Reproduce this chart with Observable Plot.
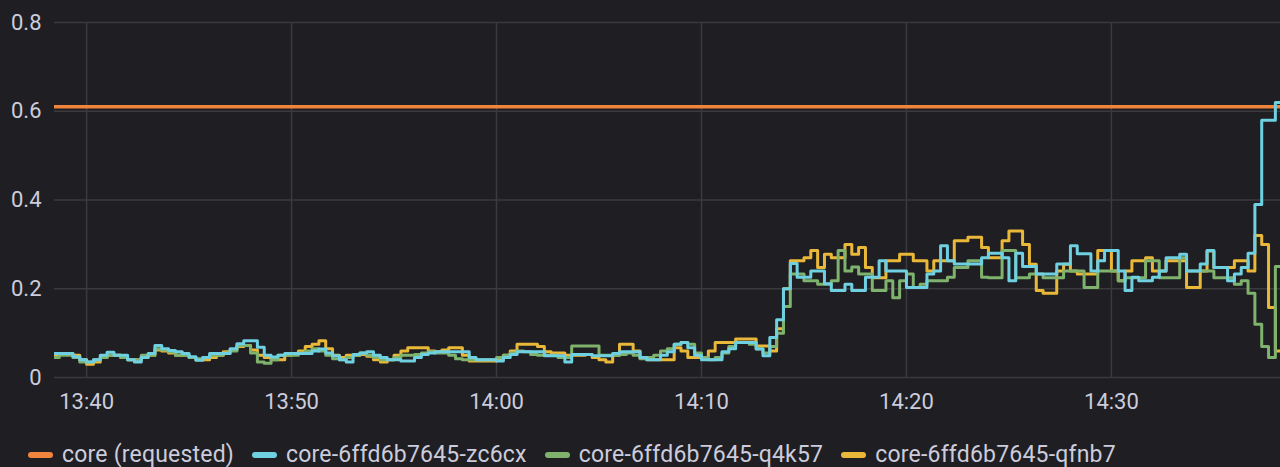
<!DOCTYPE html>
<html>
<head>
<meta charset="utf-8">
<script src="https://cdn.jsdelivr.net/npm/d3@7"></script>
<script src="https://cdn.jsdelivr.net/npm/@observablehq/plot@0.6"></script>
<style>
  html, body { margin: 0; padding: 0; background: #1f1f23; overflow: hidden; }
  #wrap { position: relative; width: 1280px; height: 467px; background: #1f1f23; font-family: Roboto, "Noto Sans", sans-serif; }
  #legend { position: absolute; left: 28px; top: 443px; height: 24px; display: flex; align-items: center; color: #ccccdc; font-size: 23px; line-height: 24px; white-space: nowrap; letter-spacing: 0.2px; }
  .item { display: flex; align-items: center; margin-right: 18px; }
  .sw { width: 25px; height: 6px; border-radius: 3px; margin-right: 9px; }
</style>
</head>
<body>
<div id="wrap"><div id="chart"></div><div id="legend"></div></div>
<script>
// ---- data (20-second samples starting 13:38:20) ----
const startTime = "13:38:20";
const stepSeconds = 20;
const seriesNames = ["core-6ffd6b7645-zc6cx", "core-6ffd6b7645-q4k57", "core-6ffd6b7645-qfnb7"];
const seriesColors = ["#6ED0E0", "#7EB26D", "#EAB839"];
const requestedName = "core (requested)";
const requestedColor = "#EF843C";
const requestedTimes = ["13:38:20", "14:38:20"];
const requestedValues = [0.61, 0.61];
const xTickLabels = ["13:40", "13:50", "14:00", "14:10", "14:20", "14:30"];
const yTickValues = [0, 0.2, 0.4, 0.6, 0.8];

const zc6cx = [
  0.054,0.054,0.054,0.047,0.04,0.035,0.04,0.05,0.057,
  0.05,0.05,0.04,0.035,0.045,0.054,0.072,0.065,0.061,
  0.058,0.054,0.047,0.039,0.045,0.054,0.054,0.054,0.065,
  0.076,0.083,0.083,0.068,0.05,0.046,0.05,0.054,0.054,
  0.054,0.054,0.06,0.064,0.055,0.049,0.04,0.035,0.052,
  0.055,0.058,0.05,0.045,0.04,0.04,0.037,0.037,0.045,
  0.052,0.055,0.058,0.058,0.058,0.058,0.058,0.045,0.04,
  0.04,0.04,0.037,0.045,0.052,0.058,0.058,0.058,0.058,
  0.049,0.049,0.049,0.035,0.052,0.052,0.052,0.049,0.049,
  0.049,0.054,0.058,0.058,0.058,0.045,0.04,0.04,0.05,
  0.058,0.075,0.079,0.067,0.05,0.04,0.04,0.04,0.058,
  0.065,0.079,0.079,0.079,0.064,0.049,0.09,0.13,0.2,
  0.257,0.226,0.226,0.24,0.24,0.211,0.196,0.196,0.21,
  0.196,0.196,0.226,0.226,0.263,0.24,0.24,0.24,0.203,
  0.203,0.203,0.233,0.24,0.297,0.263,0.256,0.256,0.256,
  0.256,0.27,0.28,0.28,0.27,0.218,0.28,0.25,0.25,
  0.233,0.233,0.233,0.256,0.256,0.297,0.279,0.279,0.24,
  0.263,0.286,0.286,0.24,0.196,0.226,0.218,0.218,0.226,
  0.24,0.27,0.27,0.278,0.24,0.24,0.256,0.286,0.248,
  0.248,0.218,0.233,0.248,0.28,0.39,0.58,0.58,0.62,
  0.47
];
const q4k57 = [
  0.045,0.05,0.05,0.045,0.035,0.035,0.04,0.045,0.05,
  0.05,0.045,0.04,0.04,0.05,0.05,0.065,0.062,0.058,
  0.05,0.05,0.045,0.042,0.045,0.05,0.05,0.055,0.06,
  0.072,0.072,0.055,0.035,0.032,0.04,0.05,0.05,0.05,
  0.055,0.06,0.065,0.06,0.05,0.042,0.04,0.045,0.05,
  0.055,0.05,0.045,0.04,0.04,0.045,0.05,0.05,0.052,
  0.055,0.058,0.055,0.055,0.05,0.042,0.04,0.04,0.04,
  0.04,0.04,0.045,0.05,0.055,0.06,0.058,0.052,0.05,
  0.05,0.05,0.045,0.045,0.071,0.071,0.071,0.071,0.05,
  0.05,0.05,0.052,0.055,0.05,0.042,0.045,0.05,0.06,
  0.065,0.075,0.079,0.075,0.055,0.045,0.04,0.045,0.055,
  0.07,0.079,0.079,0.075,0.065,0.055,0.07,0.1,0.16,
  0.233,0.233,0.218,0.218,0.21,0.21,0.218,0.286,0.24,
  0.249,0.233,0.233,0.196,0.196,0.218,0.18,0.218,0.233,
  0.203,0.21,0.218,0.218,0.218,0.226,0.248,0.248,0.263,
  0.263,0.226,0.225,0.225,0.286,0.286,0.225,0.225,0.233,
  0.233,0.225,0.225,0.225,0.24,0.24,0.24,0.203,0.203,
  0.24,0.24,0.24,0.218,0.225,0.225,0.225,0.263,0.263,
  0.225,0.225,0.225,0.27,0.24,0.24,0.24,0.24,0.225,
  0.225,0.225,0.21,0.218,0.19,0.12,0.07,0.045,0.25,
  0.263
];
const qfnb7 = [
  0.05,0.054,0.054,0.05,0.04,0.03,0.035,0.045,0.05,
  0.05,0.045,0.04,0.04,0.045,0.05,0.062,0.06,0.055,
  0.05,0.05,0.045,0.04,0.04,0.045,0.05,0.058,0.062,
  0.07,0.072,0.062,0.05,0.045,0.04,0.04,0.05,0.054,
  0.06,0.07,0.075,0.083,0.065,0.05,0.045,0.05,0.05,
  0.052,0.048,0.04,0.035,0.04,0.05,0.06,0.067,0.067,
  0.067,0.06,0.058,0.062,0.067,0.067,0.05,0.037,0.037,
  0.037,0.037,0.04,0.05,0.06,0.075,0.075,0.075,0.07,
  0.058,0.055,0.055,0.05,0.05,0.05,0.052,0.045,0.04,
  0.035,0.05,0.075,0.075,0.06,0.045,0.04,0.04,0.04,
  0.04,0.067,0.06,0.045,0.045,0.045,0.06,0.079,0.079,
  0.079,0.087,0.087,0.087,0.071,0.071,0.06,0.11,0.2,
  0.263,0.263,0.27,0.286,0.248,0.278,0.27,0.27,0.3,
  0.278,0.293,0.248,0.225,0.225,0.263,0.263,0.278,0.278,
  0.263,0.263,0.24,0.263,0.263,0.263,0.308,0.308,0.316,
  0.316,0.293,0.27,0.27,0.308,0.33,0.33,0.3,0.255,
  0.196,0.19,0.19,0.24,0.255,0.24,0.233,0.233,0.233,
  0.286,0.286,0.24,0.218,0.24,0.263,0.263,0.27,0.24,
  0.24,0.263,0.263,0.263,0.203,0.203,0.24,0.285,0.248,
  0.248,0.248,0.263,0.263,0.24,0.32,0.3,0.158,0.06,
  0.06
];
const seriesValues = [zc6cx, q4k57, qfnb7];

// ---- build ----
const toDate = (hms) => {
  const [h, m, s] = hms.split(":").map(Number);
  return new Date(Date.UTC(2023, 0, 1, h, m, s || 0));
};
const t0 = toDate(startTime);
const rows = [];
seriesNames.forEach((name, k) => {
  seriesValues[k].forEach((v, i) => {
    rows.push({series: name, t: new Date(t0.getTime() + i * stepSeconds * 1000), v});
  });
});
const requested = requestedTimes.map((t, i) => ({t: toDate(t), v: requestedValues[i]}));
const xTicks = xTickLabels.map(toDate);
const domainX = [toDate("13:38:26"), toDate("14:38:15")];

const gridColor = "#3a3a3f";
const textColor = "#ccccdc";

const chart = Plot.plot({
  width: 1280,
  height: 420,
  marginLeft: 54,
  marginRight: 0,
  marginTop: 22,
  marginBottom: 43,
  style: {background: "#1f1f23", color: textColor, fontFamily: "Roboto, sans-serif", fontSize: "22px", overflow: "visible"},
  x: {type: "utc", domain: domainX},
  y: {domain: [0, 0.8]},
  color: {domain: seriesNames, range: seriesColors},
  marks: [
    Plot.gridX(xTicks, {stroke: gridColor, strokeOpacity: 1, strokeWidth: 1.5}),
    Plot.gridY(yTickValues, {stroke: gridColor, strokeOpacity: 1, strokeWidth: 1.5}),
    Plot.axisX(xTicks, {tickSize: 0, tickPadding: 16, fontSize: 22, fill: textColor, tickFormat: d3.utcFormat("%H:%M"), label: null}),
    Plot.axisY(yTickValues, {tickSize: 0, tickPadding: 13, fontSize: 22, fill: textColor, tickFormat: d => d === 0 ? "0" : d.toFixed(1), label: null}),
    Plot.line(requested, {x: "t", y: "v", stroke: requestedColor, strokeWidth: 3.5, clip: true}),
    Plot.line(rows.filter(d => d.series === seriesNames[2]), {x: "t", y: "v", stroke: seriesColors[2], strokeWidth: 3, curve: "step-after", clip: true}),
    Plot.line(rows.filter(d => d.series === seriesNames[1]), {x: "t", y: "v", stroke: seriesColors[1], strokeWidth: 3, curve: "step-after", clip: true}),
    Plot.line(rows.filter(d => d.series === seriesNames[0]), {x: "t", y: "v", stroke: seriesColors[0], strokeWidth: 3, curve: "step-after", clip: true})
  ]
});
document.getElementById("chart").appendChild(chart);

// legend
const legend = document.getElementById("legend");
const items = [[requestedName, requestedColor]].concat(seriesNames.map((n, i) => [n, seriesColors[i]]));
items.forEach(([name, color]) => {
  const it = document.createElement("div");
  it.className = "item";
  const sw = document.createElement("div");
  sw.className = "sw";
  sw.style.background = color;
  const tx = document.createElement("span");
  tx.textContent = name;
  it.appendChild(sw);
  it.appendChild(tx);
  legend.appendChild(it);
});
</script>
</body>
</html>
